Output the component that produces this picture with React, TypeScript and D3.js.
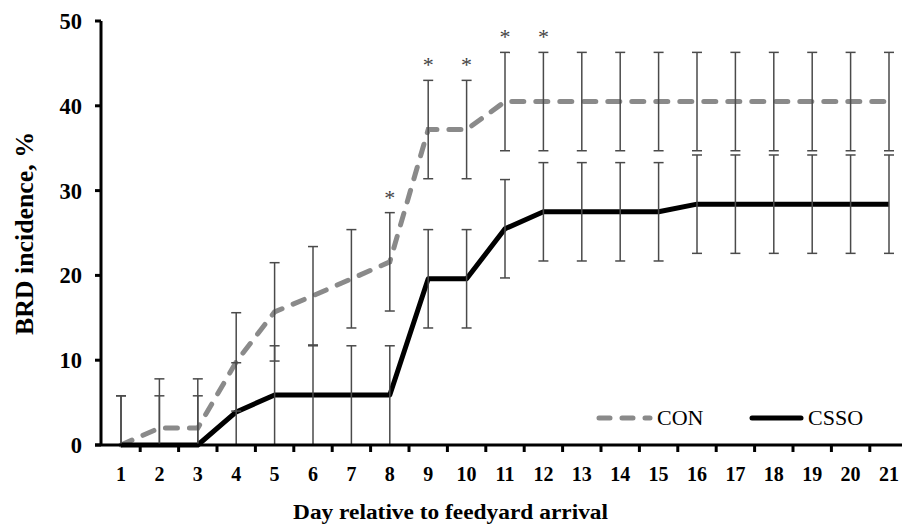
import * as d3 from "d3";

const days = [1, 2, 3, 4, 5, 6, 7, 8, 9, 10, 11, 12, 13, 14, 15, 16, 17, 18, 19, 20, 21];
const conValues = [0, 2, 2, 9.8, 15.7, 17.6, 19.6, 21.6, 37.2, 37.2, 40.5, 40.5, 40.5, 40.5, 40.5, 40.5, 40.5, 40.5, 40.5, 40.5, 40.5];
const conSE = [5.8, 5.8, 5.8, 5.8, 5.8, 5.8, 5.8, 5.8, 5.8, 5.8, 5.8, 5.8, 5.8, 5.8, 5.8, 5.8, 5.8, 5.8, 5.8, 5.8, 5.8];
const cssoValues = [0, 0, 0, 3.9, 5.9, 5.9, 5.9, 5.9, 19.6, 19.6, 25.5, 27.5, 27.5, 27.5, 27.5, 28.4, 28.4, 28.4, 28.4, 28.4, 28.4];
const cssoSE = [5.8, 5.8, 5.8, 5.8, 5.8, 5.8, 5.8, 5.8, 5.8, 5.8, 5.8, 5.8, 5.8, 5.8, 5.8, 5.8, 5.8, 5.8, 5.8, 5.8, 5.8];
const starDays = [8, 9, 10, 11, 12];
const yTicks = [0, 10, 20, 30, 40, 50];

const FONT = "'Liberation Serif', 'Times New Roman', serif";

export default function App() {
  const width = 902;
  const height = 524;
  const x = d3.scaleBand<number>().domain(days).range([101.8, 908.2]).padding(0);
  const y = d3.scaleLinear().domain([0, 50]).range([445, 21]);
  const cx = (d: number) => (x(d) as number) + x.bandwidth() / 2;

  const line = d3
    .line<number>()
    .x((_, i) => cx(days[i]))
    .y((v) => y(v));

  const bars = (vals: number[], se: number[]) =>
    vals.map((v, i) => {
      const lo = Math.max(0, v - se[i]);
      const hi = v + se[i];
      const px = cx(days[i]);
      return (
        <g key={i} stroke="#4a4a4a" strokeWidth={1.5}>
          <line x1={px} x2={px} y1={y(lo)} y2={y(hi)} />
          <line x1={px - 5} x2={px + 5} y1={y(hi)} y2={y(hi)} />
          {v - se[i] > 0.5 && <line x1={px - 5} x2={px + 5} y1={y(lo)} y2={y(lo)} />}
        </g>
      );
    });

  return (
    <svg
      width={width}
      height={height}
      style={{ position: "absolute", left: 0, top: 0, background: "#fff" }}
      fontFamily={FONT}
    >
      {/* series */}
      <path
        d={line(conValues) || ""}
        fill="none"
        stroke="#8a8a8a"
        strokeWidth={5}
        strokeDasharray="12 12"
        strokeLinecap="round"
      />
      <path d={line(cssoValues) || ""} fill="none" stroke="#000" strokeWidth={5} strokeLinejoin="round" />

      {/* error bars */}
      {bars(conValues, conSE)}
      {bars(cssoValues, cssoSE)}

      {/* significance marks */}
      {starDays.map((d) => {
        const i = days.indexOf(d);
        return (
          <text
            key={d}
            x={cx(d)}
            y={y(conValues[i] + conSE[i]) - 8}
            textAnchor="middle"
            fontSize={22}
            fill="#444"
          >
            *
          </text>
        );
      })}

      {/* y axis */}
      <line x1={101} x2={101} y1={y(50)} y2={y(0)} stroke="#000" strokeWidth={3} />
      {yTicks.map((t) => (
        <g key={t}>
          <line x1={95} x2={101} y1={y(t)} y2={y(t)} stroke="#000" strokeWidth={3} />
          <text x={82} y={y(t) + 8} textAnchor="end" fontSize={22.5} fontWeight="bold">
            {t}
          </text>
        </g>
      ))}

      {/* x axis */}
      <line x1={95} x2={width} y1={y(0)} y2={y(0)} stroke="#000" strokeWidth={3} />
      {days.map((d) => (
        <line
          key={"t" + d}
          x1={(x(d) as number) + x.bandwidth()}
          x2={(x(d) as number) + x.bandwidth()}
          y1={y(0)}
          y2={y(0) + 7}
          stroke="#000"
          strokeWidth={3}
        />
      ))}
      {days.map((d) => (
        <text key={"l" + d} x={cx(d)} y={481} textAnchor="middle" fontSize={20} fontWeight="bold">
          {d}
        </text>
      ))}

      {/* titles */}
      <text
        x={450.5}
        y={519}
        textAnchor="middle"
        fontSize={20.5}
        fontWeight="bold"
        textLength={315}
        lengthAdjust="spacingAndGlyphs"
      >
        Day relative to feedyard arrival
      </text>
      <text
        transform="translate(33,233.5) rotate(-90)"
        textAnchor="middle"
        fontSize={25}
        fontWeight="bold"
        textLength={203}
        lengthAdjust="spacingAndGlyphs"
      >
        BRD incidence, %
      </text>

      {/* legend */}
      <line
        x1={599}
        x2={650}
        y1={418}
        y2={418}
        stroke="#8a8a8a"
        strokeWidth={5}
        strokeDasharray="11 12"
        strokeLinecap="round"
      />
      <text x={657} y={425} fontSize={22}>
        CON
      </text>
      <line x1={752} x2={801} y1={418} y2={418} stroke="#000" strokeWidth={5} strokeLinecap="round" />
      <text x={808} y={425} fontSize={22}>
        CSSO
      </text>
    </svg>
  );
}
